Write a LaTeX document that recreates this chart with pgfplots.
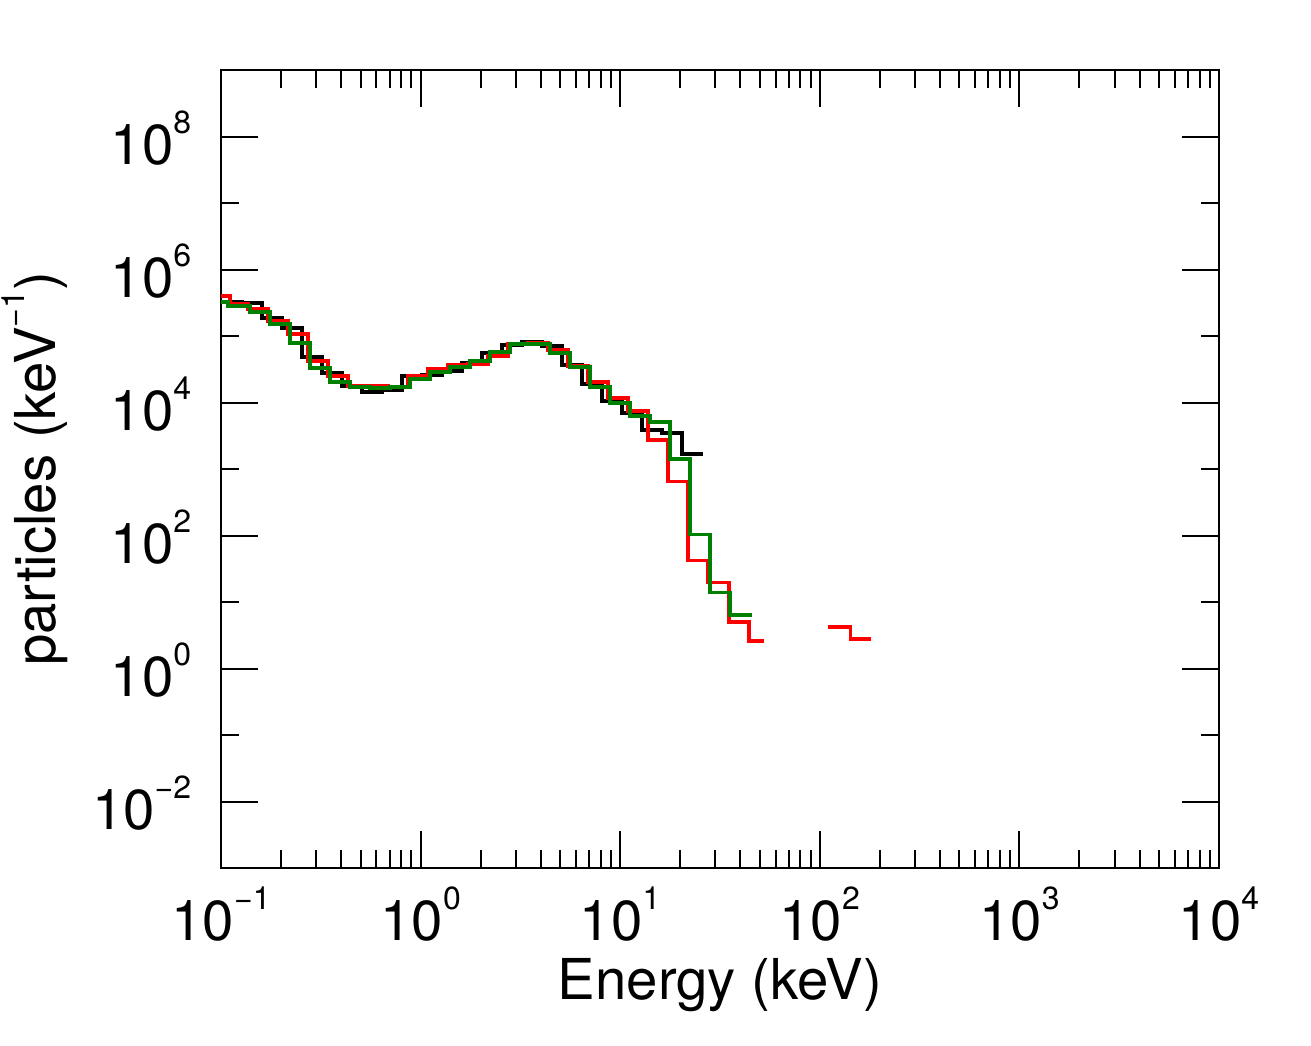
\documentclass[border=0pt]{standalone}
\usepackage{fontspec}
\setmainfont{TeX Gyre Heros}
\usepackage{pgfplots}
\pgfplotsset{compat=1.18}
\newcommand{\sps}[1]{\raisebox{9.2pt}{\fontsize{9.6}{10}\selectfont #1}}
\newcommand{\tl}[1]{10\sps{#1}}
\definecolor{dgreen}{rgb}{0,0.5,0}
\begin{document}
\fontsize{16.9}{20}\selectfont
\begin{tikzpicture}
\useasboundingbox (-66.3pt,-53.1pt) rectangle (327.0pt,260.4pt);
\begin{axis}[
 at={(0,0)}, anchor=south west, scale only axis, width=299.4pt, height=239.4pt,
 xmode=log, ymode=log, xmin=0.1, xmax=1e4, ymin=1e-3, ymax=1e9,
 xtick={0.1,1,10,100,1000,10000},
 xticklabels={\tl{−1},\tl{0},\tl{1},\tl{2},\tl{3},\tl{4}},
 ytick={1e-2,1,1e2,1e4,1e6,1e8},
 yticklabels={\tl{−2},\tl{0},\tl{2},\tl{4},\tl{6},\tl{8}},
 minor ytick={1e-1,10,1e3,1e5,1e7},
 tick align=inside, major tick length=11pt, minor tick length=5.5pt,
 every tick/.style={black, line width=0.6pt},
 axis line style={line width=0.6pt},
 xticklabel style={anchor=base, inner sep=0pt, yshift=-21.6pt},
 yticklabel style={anchor=base east, inner sep=0pt, xshift=-8.4pt, yshift=-8.4pt},
 xlabel={Energy (keV)}, ylabel={particles (keV\sps{−1})},
 xlabel style={at={(axis description cs:0.5,-0.1642)}, anchor=base, inner sep=0pt},
 ylabel style={at={(axis description cs:-0.1663,0.5)}, anchor=base, inner sep=0pt},
 const plot, no markers, line width=1.1pt
]
\addplot[black] table {
0.1 3.237e5
0.1274 3.128e5
0.1605 1.863e5
0.2021 1.319e5
0.2545 4.843e4
0.3206 2.787e4
0.4038 1.779e4
0.5085 1.446e4
0.6404 1.549e4
0.8067 2.513e4
1.0163 2.601e4
1.2800 2.987e4
1.6122 3.937e4
2.0305 5.561e4
2.5576 7.333e4
3.2210 8.130e4
4.0573 7.082e4
5.1100 3.674e4
6.4365 1.906e4
8.1078 1.060e4
10.210 7.002e3
12.858 3.891e3
16.196 3.509e3
20.398 1.699e3
25.989 1.699e3
};
\addplot[red] table {
0.1 3.983e5
0.1109 3.021e5
0.1365 2.542e5
0.1720 1.680e5
0.2166 1.072e5
0.2728 4.218e4
0.3436 2.513e4
0.4327 1.779e4
0.5449 1.779e4
0.6863 1.719e4
0.8646 2.513e4
1.0891 3.200e4
1.3717 3.674e4
1.7277 3.803e4
2.1763 5.013e4
2.7410 7.591e4
3.4515 7.858e4
4.3476 6.168e4
5.4766 3.549e4
6.8985 2.043e4
8.6888 1.175e4
10.942 7.503e3
13.783 2.755e3
17.356 645.8
21.862 42.19
27.535 19.73
35.089 4.956
44.196 2.571
52.542 2.571
};
\addplot[red] table {
110.44 4.170
142.3 2.755
181.3 2.755
};
\addplot[dgreen] table {
0.1 3.237e5
0.1084 2.819e5
0.1398 2.292e5
0.1760 1.514e5
0.2216 7.858e4
0.2792 3.313e4
0.3516 2.043e4
0.4429 1.719e4
0.5577 1.660e4
0.7023 1.719e4
0.8848 2.266e4
1.1145 2.884e4
1.4037 3.429e4
1.7680 4.218e4
2.2271 5.757e4
2.8050 7.591e4
3.5321 7.591e4
4.4491 5.561e4
5.6044 3.429e4
7.0594 1.719e4
8.8917 9.888e3
11.197 6.312e3
14.104 5.131e3
17.762 1.430e3
22.372 103.5
28.177 13.97
35.489 6.31
45.753 6.31
};
\end{axis}
\end{tikzpicture}
\end{document}
